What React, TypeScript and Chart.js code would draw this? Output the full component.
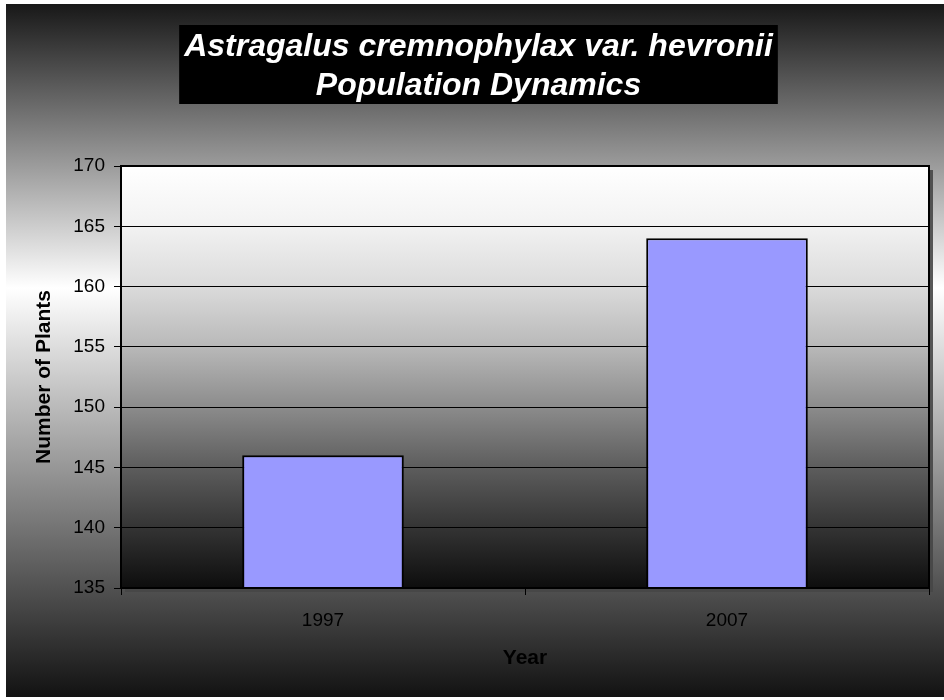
import React, { useEffect, useRef } from 'react';
import { Chart, registerables } from 'chart.js';

Chart.register(...registerables);

const titleLines = ['Astragalus cremnophylax var. hevronii', 'Population Dynamics'];
const years = ['1997', '2007'];
const plants = [146, 164];
const yMin = 135;
const yMax = 170;
const yStep = 5;
const xAxisTitle = 'Year';
const yAxisTitle = 'Number of Plants';

const FONT = '"Liberation Sans", Arial, sans-serif';

const bgPlugin = {
  id: 'bgPlugin',
  beforeDraw(chart: any) {
    const { ctx, width, height, chartArea: a } = chart;
    ctx.save();
    const g = ctx.createLinearGradient(0, 0, 0, height);
    g.addColorStop(0, '#181818');
    g.addColorStop(0.41, '#ffffff');
    g.addColorStop(1, '#121212');
    ctx.fillStyle = g;
    ctx.fillRect(0, 0, width, height);

    ctx.fillStyle = 'rgba(70,70,70,0.9)';
    ctx.fillRect(a.left + 4, a.top + 4, a.right - a.left, a.bottom - a.top);

    const pg = ctx.createLinearGradient(0, a.top, 0, a.bottom);
    pg.addColorStop(0, '#ffffff');
    pg.addColorStop(0.14, '#f2f2f2');
    pg.addColorStop(0.29, '#dadada');
    pg.addColorStop(0.43, '#b8b8b8');
    pg.addColorStop(0.57, '#8c8c8c');
    pg.addColorStop(0.71, '#5e5e5e');
    pg.addColorStop(0.86, '#333333');
    pg.addColorStop(1, '#0d0d0d');
    ctx.fillStyle = pg;
    ctx.fillRect(a.left, a.top, a.right - a.left, a.bottom - a.top);

    ctx.font = `italic bold 32px ${FONT}`;
    const w = Math.max(...titleLines.map((t) => ctx.measureText(t).width));
    const cx = 472.5;
    ctx.fillStyle = '#000';
    ctx.fillRect(cx - w / 2 - 5, 21, w + 10, 79);
    ctx.fillStyle = '#fff';
    ctx.textAlign = 'center';
    ctx.textBaseline = 'middle';
    ctx.fillText(titleLines[0], cx, 43);
    ctx.fillText(titleLines[1], cx, 82);
    ctx.restore();
  },
  afterDatasetsDraw(chart: any) {
    const { ctx, chartArea: a } = chart;
    ctx.save();
    ctx.strokeStyle = '#000';
    ctx.lineWidth = 2;
    ctx.strokeRect(a.left, a.top, a.right - a.left, a.bottom - a.top);
    ctx.restore();
  },
};

export default function App() {
  const ref = useRef<HTMLCanvasElement>(null);
  useEffect(() => {
    if (!ref.current) return;
    const chart = new Chart(ref.current, {
      type: 'bar',
      data: {
        labels: years,
        datasets: [
          {
            data: plants,
            backgroundColor: '#9999ff',
            borderColor: '#000',
            borderWidth: 2,
            barPercentage: 0.4,
            categoryPercentage: 1,
          },
        ],
      },
      options: {
        responsive: false,
        maintainAspectRatio: false,
        animation: false,
        layout: { padding: { top: 162, right: 15, left: 0, bottom: 0 } },
        plugins: {
          legend: { display: false },
          tooltip: { enabled: false },
          title: { display: false },
        },
        scales: {
          x: {
            grid: { drawOnChartArea: false, drawTicks: true, tickLength: 7, color: '#000', offset: true },
            border: { display: false },
            ticks: { color: '#000', font: { family: FONT, size: 19 }, padding: 14 },
            title: {
              display: true,
              text: xAxisTitle,
              color: '#000',
              font: { family: FONT, size: 21, weight: 'bold' },
              padding: { top: 0, bottom: 26 },
            },
            afterFit(scale: any) {
              scale.height = 109;
            },
          },
          y: {
            min: yMin,
            max: yMax,
            grid: { color: '#000', lineWidth: 1, drawTicks: true, tickLength: 7 },
            border: { display: false },
            ticks: { stepSize: yStep, color: '#000', font: { family: FONT, size: 19 }, padding: 9 },
            title: {
              display: true,
              text: yAxisTitle,
              color: '#000',
              font: { family: FONT, size: 21, weight: 'bold' },
              padding: { top: 26, bottom: 0 },
            },
            afterFit(scale: any) {
              scale.width = 115;
            },
          },
        },
      },
      plugins: [bgPlugin],
    });
    return () => chart.destroy();
  }, []);
  return (
    <div style={{ position: 'absolute', left: 6, top: 4, width: 938, height: 693 }}>
      <canvas ref={ref} width={938} height={693} />
    </div>
  );
}
